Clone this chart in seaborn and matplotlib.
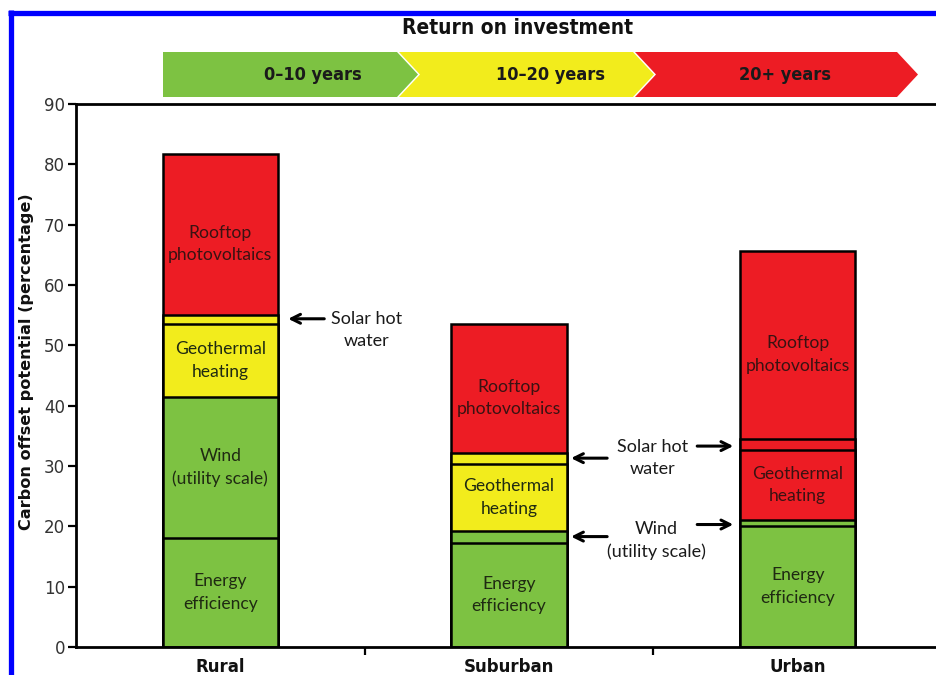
import matplotlib
matplotlib.use("Agg")
import matplotlib.pyplot as plt
from matplotlib.patches import Polygon
from matplotlib.lines import Line2D
import numpy as np
import pandas as pd
import seaborn as sns

# ---- data -------------------------------------------------------------
categories = ["Rural", "Suburban", "Urban"]
layers = ["Energy efficiency", "Wind (utility scale)", "Geothermal heating",
          "Solar hot water", "Rooftop photovoltaics"]
energy_efficiency = [18.1, 17.2, 20.1]
wind = [23.3, 2.0, 1.0]
geothermal = [12.1, 11.1, 11.5]
solar_hot_water = [1.6, 1.9, 1.9]
rooftop_pv = [26.6, 21.3, 31.1]

# return-on-investment band of every segment (0 = 0-10 y, 1 = 10-20 y, 2 = 20+ y)
roi_energy_efficiency = [0, 0, 0]
roi_wind = [0, 0, 0]
roi_geothermal = [1, 1, 2]
roi_solar_hot_water = [1, 1, 2]
roi_rooftop_pv = [2, 2, 2]

roi_bands = ["0\u201310 years", "10\u201320 years", "20+ years"]
roi_colors = ["#7DC242", "#F2EC1C", "#ED1C24"]

segment_labels = {
    "Energy efficiency": "Energy\nefficiency",
    "Wind (utility scale)": "Wind\n(utility scale)",
    "Geothermal heating": "Geothermal\nheating",
    "Rooftop photovoltaics": "Rooftop\nphotovoltaics",
}

values = [energy_efficiency, wind, geothermal, solar_hot_water, rooftop_pv]
rois = [roi_energy_efficiency, roi_wind, roi_geothermal, roi_solar_hot_water, roi_rooftop_pv]

rows = []
for layer, vals, rr in zip(layers, values, rois):
    for cat, v, r in zip(categories, vals, rr):
        rows.append({"area": cat, "layer": layer, "value": v, "roi": r})
df = pd.DataFrame(rows)
df["layer"] = pd.Categorical(df["layer"], layers, ordered=True)
df["area"] = pd.Categorical(df["area"], categories, ordered=True)
df = df.sort_values(["area", "layer"])
df["top"] = df.groupby("area", observed=True)["value"].cumsum()
df["bottom"] = df["top"] - df["value"]

# ---- figure -----------------------------------------------------------
sns.set_theme(style="ticks")
W, H = 936, 675
fig = plt.figure(figsize=(W / 100, H / 100), dpi=100)
fig.patch.set_facecolor("white")

def fx(px):
    return px / W

def fy(py):
    return 1 - py / H

ax = fig.add_axes([fx(76), fy(647), fx(942) - fx(76), fy(104) - fy(647)])
ax.set_facecolor("white")

# stacked bars: draw cumulative tops from the highest layer down
for layer in reversed(layers):
    sub = df[df["layer"] == layer]
    pal = {a: roi_colors[r] for a, r in zip(sub["area"], sub["roi"])}
    sns.barplot(data=sub, x="area", y="top", hue="area", palette=pal,
                order=categories, hue_order=categories, width=0.4,
                dodge=False, saturation=1, legend=False, errorbar=None,
                edgecolor="black", linewidth=1.8, ax=ax)

# segment labels
txt_font = ["Lato", "DejaVu Sans"]
for _, row in df.iterrows():
    lab = segment_labels.get(row["layer"])
    if lab is None:
        continue
    if row["layer"] == "Wind (utility scale)" and row["value"] < 5:
        continue
    xi = categories.index(row["area"])
    yc = (row["top"] + row["bottom"]) / 2
    if row["layer"] == "Rooftop photovoltaics":
        yc -= 1.6
    col = "#3a1212" if row["roi"] == 2 else "#1f2a12"
    ax.text(xi, yc, lab, ha="center", va="center", fontsize=12.6,
            family=txt_font, color=col, linespacing=1.5)

# callouts
arrow_kw = dict(arrowstyle="->", lw=2.2, color="black", mutation_scale=16,
                shrinkA=0, shrinkB=0)
note_kw = dict(ha="center", va="center", fontsize=13, family=txt_font,
               color="#1a1a1a", linespacing=1.45)
ax.annotate("", xy=(0.235, 54.4), xytext=(0.36, 54.4), arrowprops=arrow_kw)
ax.text(0.505, 52.6, "Solar hot\nwater", **note_kw)

ax.annotate("", xy=(1.215, 31.3), xytext=(1.34, 31.3), arrowprops=arrow_kw)
ax.annotate("", xy=(1.777, 33.3), xytext=(1.652, 33.3), arrowprops=arrow_kw)
ax.text(1.497, 31.3, "Solar hot\nwater", **note_kw)

ax.annotate("", xy=(1.215, 18.3), xytext=(1.34, 18.3), arrowprops=arrow_kw)
ax.annotate("", xy=(1.777, 20.3), xytext=(1.652, 20.3), arrowprops=arrow_kw)
ax.text(1.51, 17.6, "Wind\n(utility scale)", **note_kw)

# axes styling
ax.set_xlim(-0.5, 2.5)
ax.set_ylim(0, 90)
ax.set_yticks(np.arange(0, 91, 10))
ax.set_xticks(range(len(categories)))
ax.set_xticklabels(categories, fontsize=12, fontweight="bold", color="#111111")
ax.set_xticks([0.5, 1.5], minor=True)
ax.tick_params(axis="x", which="major", length=0, pad=8)
ax.tick_params(axis="x", which="minor", length=6, width=1.6, color="black")
ax.tick_params(axis="y", length=6, width=1.6, color="black", labelsize=12,
               labelcolor="#333333", pad=2)
ax.set_xlabel("")
ax.set_ylabel("Carbon offset potential (percentage)", fontsize=11.6,
              fontweight="bold", color="#111111")
ax.yaxis.set_label_coords((34 - 76) / 866, (647 - 362) / 543)
for s in ["left", "bottom", "top"]:
    ax.spines[s].set_visible(True)
    ax.spines[s].set_linewidth(2)
    ax.spines[s].set_color("black")
ax.spines["right"].set_visible(False)

# return-on-investment header
head_font = ["DejaVu Sans"]
fig.text(fx(518), fy(28), "Return on investment", ha="center", va="center",
         fontsize=15, fontweight="bold", family=head_font, fontstretch="condensed",
         color="#111111")

band_starts = [163, 399, 635]
band_corners = [397, 633, 897]
band_label_x = [313, 551, 785]
tip = 21
top_y, bot_y = 52, 97
mid_y = (top_y + bot_y) / 2
for i, (b, c0, c1) in enumerate(zip(roi_bands, band_starts, band_corners)):
    pts = [(c0, top_y), (c1, top_y), (c1 + tip, mid_y), (c1, bot_y), (c0, bot_y)]
    if i > 0:
        pts.append((c0 + tip, mid_y))
    poly = Polygon([(fx(x), fy(y)) for x, y in pts], closed=True,
                   facecolor=roi_colors[i], edgecolor="none",
                   transform=fig.transFigure)
    fig.add_artist(poly)
    fig.text(fx(band_label_x[i]), fy(mid_y), b, ha="center", va="center",
             fontsize=13, fontweight="bold", family=head_font,
             fontstretch="condensed", color="#1a1a1a")

# blue frame
fig.add_artist(Line2D([fx(10.5), fx(10.5)], [fy(10), fy(675)], color="#0000FF",
                      lw=3.8, transform=fig.transFigure, solid_capstyle="butt"))
fig.add_artist(Line2D([fx(8), fx(936)], [fy(12.5), fy(12.5)], color="#0000FF",
                      lw=3.8, transform=fig.transFigure, solid_capstyle="butt"))

fig.savefig("out.png", dpi=100, facecolor="white")
